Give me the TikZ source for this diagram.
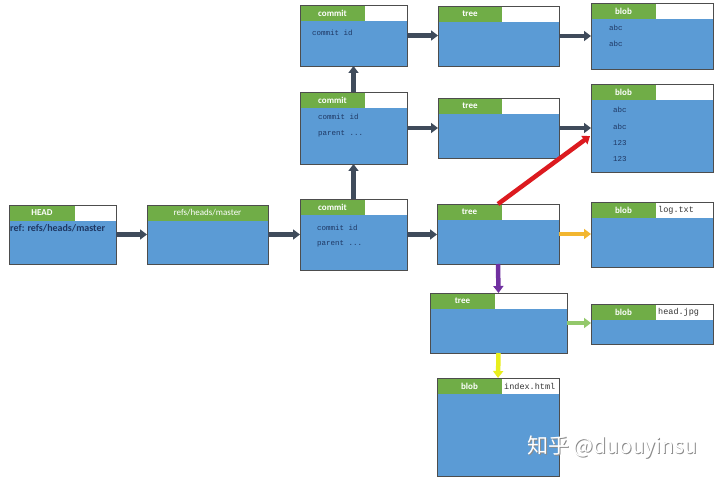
\documentclass[tikz,border=0pt]{standalone}
\usepackage{fontspec}
\setmainfont{Carlito}
\newfontfamily\codefont{Liberation Mono}
\newfontfamily\zhfont{Noto Sans CJK SC}
\usepackage{tikz}
\usetikzlibrary{arrows.meta}
\usetikzlibrary{calc}
\usetikzlibrary{positioning}
\definecolor{objblue}{HTML}{5B9BD5}
\definecolor{hdrgreen}{HTML}{70AD47}
\definecolor{objedge}{HTML}{4D4D4D}
\definecolor{refgray}{HTML}{3F4B5B}
\definecolor{navy}{HTML}{1F3864}
\definecolor{redlink}{HTML}{DC1A1F}
\definecolor{purplelink}{HTML}{7030A0}
\definecolor{goldlink}{HTML}{F2B630}
\definecolor{greenlink}{HTML}{93C86B}
\definecolor{yellowlink}{HTML}{E8EE1C}
\tikzset{objbox/.style = {fill=objblue, inner sep=0pt, outer sep=0pt},
         hdrtext/.style = {text=white, font=\fontsize{9}{10}\selectfont\bfseries, inner sep=0pt},
         sidetext/.style = {text=black!80, font=\codefont\fontsize{8.5}{9}\selectfont, inner sep=2pt},
         bodytext/.style = {text=navy, font=\codefont\fontsize{7.5}{8}\selectfont, anchor=west, inner sep=0pt},
         link/.style = {line width=4.5pt, -{Triangle[length=7pt,width=10pt]}},
         reflink/.style = {link, refgray}}
\newcommand{\gitobj}[8]{%
  \node[objbox, minimum width=#4pt, minimum height=#5pt, anchor=north west] (#1) at (#2,#3) {};
  \fill[white] (#1.north west) rectangle (#1.east |- {$(#1.north)+(0,16)$});
  \fill[hdrgreen] (#1.north west) rectangle ++(#6,16);
  \node[hdrtext] (#1-h) at ($(#1.north west)+(#6/2,8)$) {#7};
  \node[sidetext, anchor=west] (#1-s) at ($(#1.north west)+(#6,8)$) {#8};
  \draw[objedge, line width=0.8pt] (#1.north west) rectangle (#1.south east);
}

\begin{document}
\begin{tikzpicture}[x=1pt, y=-1pt]
      \fill [white] (0, 0) rectangle (720, 481);
      \useasboundingbox (0, 0) rectangle (720, 481);

      \gitobj{head}{9}{205}{107}{59}{66}{HEAD}{}
      \gitobj{refs}{147}{205}{121}{59}{121}{\mdseries refs/heads/master}{}
      \gitobj{c1}{300}{5}{107}{61}{65}{commit}{}
      \gitobj{t1}{438}{6}{121}{60}{64}{tree}{}
      \gitobj{b1}{591}{3}{122}{66}{65}{blob}{}
      \gitobj{c2}{300}{92}{107}{72}{65}{commit}{}
      \gitobj{t2}{438}{98}{121}{60}{64}{tree}{}
      \gitobj{b2}{591}{84}{122}{88}{65}{blob}{}
      \gitobj{c3}{300}{199}{107}{71}{65}{commit}{}
      \gitobj{t3}{437}{204}{122}{60}{65}{tree}{}
      \gitobj{b3}{591}{202}{122}{65}{65}{blob}{log.txt}
      \gitobj{t4}{430}{293}{137}{60}{65}{tree}{}
      \gitobj{b4}{591}{304}{122}{40}{65}{blob}{head.jpg}
      \gitobj{b5}{437}{378}{122}{98}{65}{blob}{index.html}

      \node [anchor=west, inner sep=0pt, text=navy,
             font=\fontsize{10}{11}\selectfont\bfseries] (head-ref) at (10, 228) {ref: refs/heads/master};
      \node [bodytext] (c1-id) at (312, 33) {commit id};
      \node [bodytext] (c2-id) at (318, 117) {commit id};
      \node [bodytext] (c2-parent) at (318, 134) {parent ...};
      \node [bodytext] (c3-id) at (317, 228) {commit id};
      \node [bodytext] (c3-parent) at (317, 244) {parent ...};
      \foreach \y/\t [count=\i] in {28/abc, 44/abc} {
        \node [bodytext] (b1-\i) at (609, \y) {\t};
      }
      \foreach \y/\t [count=\i] in {110/abc, 127/abc, 143/123, 159/123} {
        \node [bodytext] (b2-\i) at (613, \y) {\t};
      }

      \draw [reflink] (head.east) -- (refs.west);
      \draw [reflink] (refs.east) -- (c3.west);
      \draw [reflink] (c3.north) -- (c2.south);
      \draw [reflink] (c2.north) -- (c1.south);
      \draw [reflink] (c1.east) -- (c1.east -| t1.west);
      \draw [reflink] (t1.east) -- (t1.east -| b1.west);
      \draw [reflink] (c2.east) -- (c2.east -| t2.west);
      \draw [reflink] (t2.east) -- (t2.east -| b2.west);
      \draw [reflink] (c3.east) -- (c3.east -| t3.west);
      \draw [link, redlink] (t3.north) -- ($(b2.west)+(-1, 8)$);
      \draw [link, goldlink] (t3.east) -- (t3.east -| b3.west);
      \draw [link, purplelink] (t3.south) -- (t4.north);
      \draw [link, greenlink] (t4.east) -- (t4.east -| b4.west);
      \draw [link, yellowlink] (t4.south) -- (b5.north);

      \node [text=black!45, font=\zhfont\fontsize{21}{22}\selectfont] (mark-shadow) at (613, 448) {知乎 @duouyinsu};
      \node [text=white, font=\zhfont\fontsize{21}{22}\selectfont] (mark) at (612, 447) {知乎 @duouyinsu};
\end{tikzpicture}
\end{document}
